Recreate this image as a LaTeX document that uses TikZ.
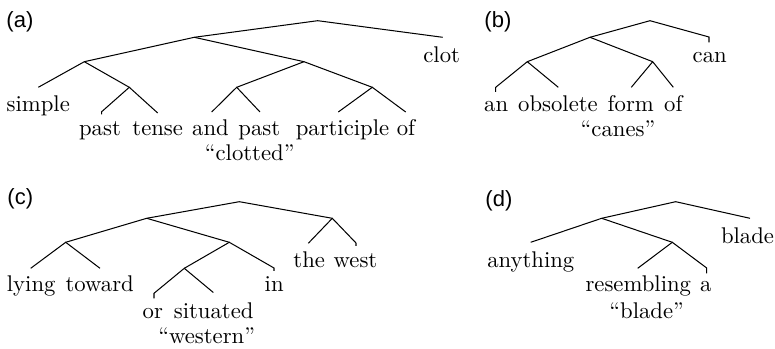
\documentclass[tikz,border=0pt]{standalone}
\usepackage{fontspec}
\newfontfamily\tagfont{Liberation Sans}
\begin{document}
\begin{tikzpicture}[x=0.4405pt, y=-0.4405pt,
  edge/.style={line width=0.45pt, line join=miter},
  word/.style={anchor=base, inner sep=0pt, font=\fontsize{10}{12}\selectfont},
  tag/.style={anchor=base west, inner sep=0pt, font=\tagfont\fontsize{9.7}{11}\selectfont}]
\useasboundingbox (0,0) rectangle (775,349);

% ---------------- (a) clot ----------------
\node[tag] (ta) at (6,27.5) {(a)};
\coordinate (aR) at (317.7,20.7);
\coordinate (a1) at (194.3,37.3);
\coordinate (a2) at (84.3,61.7);
\coordinate (a3) at (304,61.7);
\coordinate (a4) at (129.3,87.3);
\coordinate (a5) at (236.7,87.3);
\coordinate (a6) at (372.3,87.3);
\coordinate (eClot) at (442.7,37.3);
\coordinate (eSimple) at (38.3,87.3);
\coordinate (ePastA) at (101.7,111.7);
\coordinate (eTense) at (157.7,113);
\coordinate (eAnd) at (211.7,112);
\coordinate (ePastB) at (260,112);
\coordinate (ePart) at (338.3,112);
\coordinate (eOfA) at (405.7,112);

\node[word] (wClot) at (441.7,62.7) {clot};
\node[word] (wSimple) at (38.3,111.5) {simple};
\node[word] (wPastA) at (100,136) {past};
\node[word] (wTense) at (157.7,136) {tense};
\node[word] (wAnd) at (210.5,136) {and};
\node[word] (wPastB) at (259.3,136) {past};
\node[word] (wPart) at (342.5,136) {participle};
\node[word] (wOfA) at (406,136) {of};
\node[word] (wClotted) at (249.7,161) {``clotted''};

\draw[edge] (a1) -- (aR) -- (eClot);
\draw[edge] (a2) -- (a1) -- (a3);
\draw[edge] (eSimple) -- (a2) -- (a4);
\draw[edge] (ePastA) ++(0,2.8) -- (ePastA) -- (a4) -- (eTense);
\draw[edge] (a5) -- (a3) -- (a6);
\draw[edge] (eAnd) -- (a5) -- (ePastB);
\draw[edge] (ePart) -- (a6) -- (eOfA);

% ---------------- (b) can ----------------
\node[tag] (tb) at (484,27.5) {(b)};
\coordinate (bR) at (650,20.7);
\coordinate (b1) at (590,37.3);
\coordinate (b2) at (527.3,61.7);
\coordinate (b3) at (652.7,61.7);
\coordinate (eCan) at (709,37);
\coordinate (eAn) at (495.7,87.3);
\coordinate (eObs) at (558.3,87.3);
\coordinate (eForm) at (631.3,87.3);
\coordinate (eOfB) at (673.3,87.3);

\node[word] (wCan) at (709.7,62.7) {can};
\node[word] (wAn) at (496.2,111.5) {an};
\node[word] (wObs) at (558,111.5) {obsolete};
\node[word] (wForm) at (630.8,111.5) {form};
\node[word] (wOfB) at (673.3,111.5) {of};
\node[word] (wCanes) at (618,136.5) {``canes''};

\draw[edge] (b1) -- (bR) -- (eCan) -- ++(0,5.5);
\draw[edge] (b2) -- (b1) -- (b3);
\draw[edge] (eAn) ++(0,4.5) -- (eAn) -- (b2) -- (eObs);
\draw[edge] (eForm) -- (b3) -- (eOfB);

% ---------------- (c) western ----------------
\node[tag] (tc) at (7,205) {(c)};
\coordinate (cR) at (239.3,201.7);
\coordinate (c1) at (146.7,218.3);
\coordinate (c2) at (332.3,218.3);
\coordinate (c3) at (65.7,242.3);
\coordinate (c4) at (229.3,242.3);
\coordinate (c5) at (184.3,268.3);
\coordinate (eThe) at (308.3,243.3);
\coordinate (eWest) at (356,243);
\coordinate (eLying) at (30.7,268.3);
\coordinate (eToward) at (100,268.3);
\coordinate (eIn) at (274,268);
\coordinate (eOr) at (154,293.3);
\coordinate (eSit) at (213.3,292.5);

\node[word] (wThe) at (309.2,267.3) {the};
\node[word] (wWest) at (355.5,267.3) {west};
\node[word] (wLying) at (31.2,291.7) {lying};
\node[word] (wToward) at (99.7,291.7) {toward};
\node[word] (wIn) at (274.2,291.7) {in};
\node[word] (wOr) at (152.8,318.3) {or};
\node[word] (wSit) at (213.7,318.3) {situated};
\node[word] (wWestern) at (206.7,343.3) {``western''};

\draw[edge] (c1) -- (cR) -- (c2);
\draw[edge] (eThe) -- (c2) -- (eWest) -- ++(0,3);
\draw[edge] (c3) -- (c1) -- (c4);
\draw[edge] (eLying) -- (c3) -- (eToward);
\draw[edge] (c5) -- (c4) -- (eIn) -- ++(0,3);
\draw[edge] (eOr) ++(0,5) -- (eOr) -- (c5) -- (eSit);

% ---------------- (d) blade ----------------
\node[tag] (td) at (485,207) {(d)};
\coordinate (dR) at (675.7,201.7);
\coordinate (d1) at (601.7,218.3);
\coordinate (d2) at (672.3,242.3);
\coordinate (eBlade) at (750,218.3);
\coordinate (eAny) at (530.7,242.3);
\coordinate (eRes) at (637.7,268.3);
\coordinate (eA) at (706.7,268);

\node[word] (wBlade) at (747.5,243.3) {blade};
\node[word] (wAny) at (530.8,267.3) {anything};
\node[word] (wRes) at (638.3,291.7) {resembling};
\node[word] (wA) at (705.8,291.7) {a};
\node[word] (wBladeQ) at (646.7,318.3) {``blade''};

\draw[edge] (d1) -- (dR) -- (eBlade);
\draw[edge] (eAny) -- (d1) -- (d2);
\draw[edge] (eRes) -- (d2) -- (eA) -- ++(0,5.5);
\end{tikzpicture}
\end{document}
